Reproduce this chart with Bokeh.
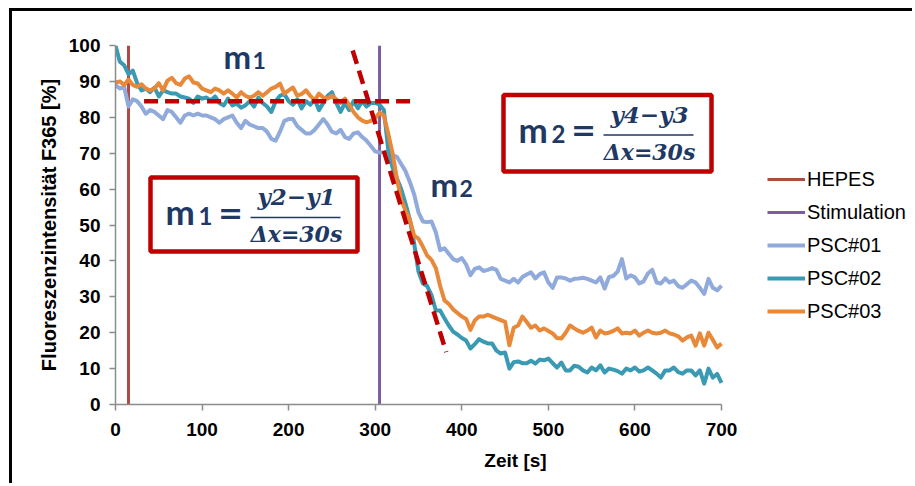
from bokeh.plotting import figure
from bokeh.models import Legend, LegendItem, Range1d, FixedTicker
from bokeh.core.properties import value
from bokeh.embed import file_html
from bokeh.resources import INLINE

# ---------------- data ----------------
time_s = list(range(0, 705, 5))

psc01 = [89, 88, 88.5, 83, 85, 84.5, 83, 81, 82, 81.5,
         80.5, 79.5, 82, 81.5, 80, 78.5, 80.5, 81, 80.5, 81,
         80.5, 80.5, 80, 79.5, 78.5, 79.5, 80, 80.5, 78.5, 77,
         79, 78, 77.5, 77, 77, 76, 74, 73.5, 76, 79,
         79.5, 79.5, 77.5, 76.5, 75.5, 75.5, 76.5, 78, 79.5, 78,
         76, 75.5, 76.5, 74.5, 74, 75.5, 75.8, 74.5, 73.5, 72,
         70.5, 70.2, 70.3, 70.5, 69.5, 69, 67, 65, 62, 58.5,
         53.5, 51, 50.8, 51, 48, 43, 43.5, 42, 40.5, 40,
         40.8, 39, 36, 37.8, 38.2, 37.2, 37.5, 38, 37.5, 35,
         34.5, 34, 35, 34, 35.5, 36.2, 36.8, 35.1, 36.3, 36.8,
         34, 32.5, 35.4, 35.4, 35.1, 34.5, 35, 35.1, 35.3, 35,
         34.5, 34, 35.4, 32.3, 35.5, 35.8, 37, 40.5, 35.1, 36,
         35.4, 33.7, 34.3, 36.5, 37.5, 34, 33.7, 35.1, 34, 34.5,
         33, 32.5, 33.5, 34.5, 34, 32.5, 30.8, 35, 32.5, 31.8,
         33.1]

psc02 = [100, 95.5, 94.5, 92, 93, 89.5, 87.5, 88, 87, 88.3,
         85.8, 87.5, 87, 86.6, 86.6, 85.8, 85.5, 85.2, 84, 85.8,
         85.2, 85.5, 84.7, 85.8, 84, 83.3, 85.2, 83.3, 83.8, 82.7,
         83.3, 84.5, 83, 85.5, 84, 83, 81.5, 84.5, 86, 86.5,
         84.5, 83.5, 85, 82.5, 84.5, 83.5, 85, 82, 84, 86,
         87, 84, 81.5, 84, 82, 84.5, 82.5, 84.5, 83, 84,
         84, 83.5, 82, 71, 66, 63, 60, 56, 51.5, 44.8,
         37, 33.7, 33, 30.5, 26.2, 26.2, 24, 22, 20.3, 19.5,
         18.5, 17.8, 15.6, 16.8, 18.2, 17.5, 17, 17, 15, 14.2,
         14.5, 10, 11.8, 12, 11.5, 11.5, 12.2, 11.4, 12.5, 12.3,
         12.8, 11.5, 10.3, 11.7, 9.5, 9.5, 10.8, 10.5, 9.5, 8.9,
         10.3, 9.5, 10.9, 8.9, 10, 9.7, 9.3, 8.6, 10, 9.5,
         10.3, 9.2, 9.5, 10.3, 9.5, 8.6, 7.5, 9.5, 9.5, 10.3,
         9, 8.6, 9.5, 9.5, 8.1, 9.5, 5.8, 10, 7.5, 8.5,
         6]

psc03 = [89.7, 90, 89, 90.5, 89, 88.5, 89.2, 88, 87.5, 88,
         89.5, 87.5, 90.2, 91, 89.5, 89, 90.8, 91.4, 89.7, 89.4,
         88, 87.5, 87, 88, 87.5, 86.6, 87.5, 86.6, 85.5, 87,
         86, 85.5, 86, 87, 86, 87, 88, 88.5, 89.4, 86.6,
         87.5, 88.3, 86, 86.5, 87.5, 86, 84.7, 86.6, 85.5, 85.2,
         86, 85, 84, 85.2, 83.5, 81.5, 80, 79.1, 78.6, 79,
         79.7, 81.3, 80.5, 75.5, 70, 63, 57, 54, 51.5, 47,
         46.2, 44, 41.5, 40.3, 38, 33, 29, 28, 26.5, 25.5,
         24.5, 23.8, 20.8, 23.4, 24.5, 24.5, 25, 24.5, 24, 23.5,
         23, 16.5, 21.4, 22, 24.5, 23, 21.4, 22, 20.6, 21.2,
         20.5, 19.8, 18.5, 18.4, 20, 22, 21.2, 20.5, 20, 20.6,
         21.4, 18.7, 20.6, 19.8, 20, 20.5, 21.2, 19.8, 20, 19.8,
         20.6, 19.2, 20, 20.6, 20, 19.8, 20, 20.6, 19.8, 19.5,
         19, 17.8, 18.7, 19.2, 16.4, 19.8, 16.4, 20, 18, 15.9,
         17]

hepes_t = 15
stim_t = 305
event_y = [0, 100]

fit1_x = [33, 347]
fit1_y = [84.5, 84.5]
fit2_x = [274, 382]
fit2_y = [98.6, 14.6]

x_ticks = [0, 100, 200, 300, 400, 500, 600, 700]
y_ticks = [0, 10, 20, 30, 40, 50, 60, 70, 80, 90, 100]
x_max, y_max = 700, 100

series_labels = ["PSC#01", "PSC#02", "PSC#03"]
series_colors = ["#8faadb", "#3a9ab3", "#e8893a"]
hepes_color = "#b04a44"
stim_color = "#7b5ea0"
red = "#c00000"
navy = "#203864"

# ---------------- layout (pixels in the page) ----------------
FX0, FX1, FY0, FY1 = 115, 721, 45, 404   # axis extents in page pixels
PAGE_W = 915
OFF_X, OFF_Y = 12, 11                      # margin + frame border
W, H = PAGE_W - OFF_X, 475
# the plotting frame runs to the right edge so the legend can sit there;
# the x axis itself is bounded to 0..700
x_view_max = x_max * (PAGE_W - FX0) / (FX1 - FX0)

p = figure(width=W, height=H, output_backend="svg", toolbar_location=None,
           x_range=Range1d(0, x_view_max), y_range=Range1d(0, y_max),
           min_border_left=FX0 - OFF_X, min_border_right=0,
           min_border_top=FY0 - OFF_Y, min_border_bottom=H - (FY1 - OFF_Y))
p.styles = {"margin-left": "9px", "margin-top": "8px",
            "border-left": "3px solid black", "border-top": "3px solid black"}
p.grid.visible = False
p.outline_line_color = None
p.background_fill_color = "white"
p.border_fill_color = "white"

p.xaxis.ticker = FixedTicker(ticks=x_ticks)
p.yaxis.ticker = FixedTicker(ticks=y_ticks)
p.xaxis.bounds = (0, x_max)
for ax in (p.xaxis[0], p.yaxis[0]):
    ax.axis_line_color = "#8c8c8c"
    ax.axis_line_width = 1.5
    ax.major_tick_line_color = "#8c8c8c"
    ax.major_tick_line_width = 1.5
    ax.major_tick_in = 0
    ax.major_tick_out = 6
    ax.minor_tick_line_color = None
    ax.major_label_text_font = "Liberation Sans"
    ax.major_label_text_font_style = "bold"
    ax.major_label_text_font_size = "19px"
    ax.major_label_text_color = "black"
    ax.axis_label_text_font = "Liberation Sans"
    ax.axis_label_text_font_style = "bold"
    ax.axis_label_text_color = "black"
p.xaxis.axis_label = "Zeit [s]"
p.xaxis.axis_label_text_font_size = "19px"
p.xaxis.major_label_standoff = 12
p.xaxis.axis_label_standoff = 11
p.yaxis.axis_label = "Fluoreszenzintensität F365 [%]"
p.yaxis.axis_label_text_font_size = "20px"
p.yaxis.major_label_standoff = 9
p.yaxis.axis_label_standoff = 6

# event lines
r_hepes = p.line([hepes_t, hepes_t], event_y, line_color=hepes_color, line_width=3)
r_stim = p.line([stim_t, stim_t], event_y, line_color=stim_color, line_width=3)

# series
rs = []
for ys, c in zip([psc01, psc02, psc03], series_colors):
    rs.append(p.line(time_s, ys, line_color=c, line_width=4, line_join="round"))

# slope guide lines
p.line(fit1_x, fit1_y, line_color=red, line_width=4.5, line_dash="14 7")
p.line(fit2_x, fit2_y, line_color=red, line_width=4.5, line_dash="14 7")

# ---------- annotations (positions measured in page pixels) ----------
BASE_K = 0.47  # baseline compensation (fraction of font size)


def dx(px):
    return (px - FX0) / (FX1 - FX0) * x_max


def dy(py):
    return (FY1 - py) / (FY1 - FY0) * y_max


def txt(px, py, s, size, font, style, align="left"):
    py = py - BASE_K * size
    p.text(x=[dx(px)], y=[dy(py)], text=[s], text_font=value(font),
           text_font_style=style, text_font_size=f"{size}px", text_color=navy,
           text_align=align, text_baseline="alphabetic")


# free labels m1, m2
txt(223, 71, "m", 33, "Lato", "bold")
txt(252, 71, "1", 23, "Lato", "bold")
txt(430, 199, "m", 33, "Lato", "bold")
txt(459, 199, "2", 23, "Lato", "bold")

boxes = [(150, 357, 177, 251, "1", "y2\u2212y1"),
         (503, 711, 94.5, 171, "2", "y4\u2212y3")]
for (l, r, t, b, idx, num) in boxes:
    p.quad(left=[dx(l)], right=[dx(r)], top=[dy(t)], bottom=[dy(b)],
           fill_color="white", line_color=red, line_width=4.5)
    txt(l + 15, t + 50, "m", 35, "Lato", "bold")
    txt(l + 48, t + 50, idx, 24, "Lato", "bold")
    txt(l + 80, t + 49, "=", 30, "DejaVu Serif", "bold", align="center")
    txt(l + 146, t + 30, num, 23, "DejaVu Serif", "bold italic", align="center")
    txt(l + 146, t + 67, "\u0394x=30s", 22, "DejaVu Serif", "bold italic", align="center")
    p.line([dx(l + 100), dx(l + 190)], [dy(t + 40), dy(t + 40)],
           line_color=navy, line_width=1.5)

# legend (to the right of the axes, inside the wide frame)
items = [LegendItem(label="HEPES", renderers=[r_hepes]),
         LegendItem(label="Stimulation", renderers=[r_stim])]
for lab, r in zip(series_labels, rs):
    items.append(LegendItem(label=lab, renderers=[r]))
legend = Legend(items=items, location=(767 - FX0, FY1 - 323),
                label_text_font="Liberation Sans", label_text_font_size="20px",
                label_text_color="black",
                glyph_width=38, glyph_height=24, label_height=24,
                label_standoff=2, spacing=9, padding=0, margin=0,
                border_line_color=None, background_fill_alpha=0)
p.add_layout(legend, "center")

open("out.html", "w").write(file_html(p, INLINE))
